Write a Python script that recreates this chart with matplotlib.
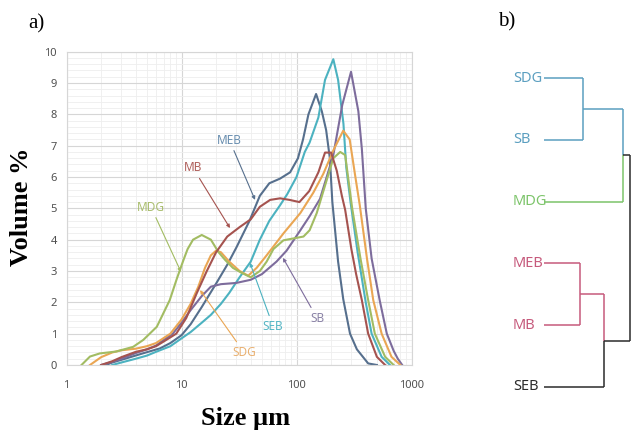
import matplotlib
matplotlib.use("Agg")
import matplotlib.pyplot as plt
from matplotlib.ticker import FixedLocator, FixedFormatter, LogLocator, MultipleLocator, NullFormatter

# ---------------- data: particle size distributions ----------------
MEB_x = [2.2, 2.5, 3.3, 4.6, 6.5, 8, 10, 12, 15, 20, 25, 30, 39, 48, 58, 72, 88, 103, 114, 127, 148, 166, 181, 195, 205, 230, 255, 292, 335, 420, 500]
MEB_y = [0, 0.08, 0.21, 0.37, 0.53, 0.7, 0.95, 1.3, 1.85, 2.6, 3.2, 3.75, 4.6, 5.4, 5.8, 5.95, 6.15, 6.6, 7.2, 8.0, 8.65, 8.1, 7.5, 6.6, 5.2, 3.3, 2.1, 1.0, 0.5, 0.05, 0]

SEB_x = [2.5, 3, 4, 5, 6, 8, 10, 12, 15, 18, 22, 26, 32, 40, 48, 58, 72, 83, 100, 118, 130, 155, 177, 209, 230, 256, 271, 295, 340, 400, 450, 550, 650]
SEB_y = [0, 0.08, 0.2, 0.3, 0.42, 0.6, 0.85, 1.05, 1.35, 1.6, 1.95, 2.3, 2.8, 3.3, 4.0, 4.6, 5.1, 5.45, 6.0, 6.8, 7.1, 7.9, 9.1, 9.76, 9.1, 7.7, 6.3, 5.2, 3.6, 2.0, 1.0, 0.26, 0]

SB_x = [2.0, 2.5, 3, 4, 5, 6, 7, 8.4, 10, 12, 15, 18, 22, 30, 40, 50, 67, 82, 108, 130, 160, 183, 209, 250, 298, 345, 370, 400, 450, 530, 610, 700, 760, 830]
SB_y = [0, 0.1, 0.2, 0.38, 0.5, 0.62, 0.8, 1.0, 1.35, 1.75, 2.2, 2.5, 2.58, 2.62, 2.72, 2.9, 3.3, 3.65, 4.3, 4.75, 5.3, 6.0, 6.7, 8.3, 9.36, 8.1, 6.9, 5.0, 3.4, 2.05, 1.0, 0.45, 0.2, 0]

SDG_x = [1.6, 2, 2.5, 3, 4, 5, 6, 8, 10, 12, 14, 16, 18, 20, 22, 26, 32, 38, 45, 55, 77, 108, 140, 171, 209, 255, 290, 322, 355, 410, 465, 550, 670, 800]
SDG_y = [0, 0.25, 0.4, 0.47, 0.52, 0.6, 0.7, 1.0, 1.45, 1.95, 2.5, 3.1, 3.5, 3.65, 3.6, 3.3, 3.0, 2.85, 3.1, 3.5, 4.2, 4.85, 5.5, 6.1, 6.85, 7.48, 7.2, 6.1, 5.1, 3.4, 2.07, 1.0, 0.26, 0]

MDG_x = [1.35, 1.6, 1.95, 2.7, 3.8, 4.65, 6.1, 7.9, 9.1, 10.4, 11.3, 12.6, 15, 18, 21, 24, 28, 33, 40, 48, 55, 63, 77, 94, 115, 130, 150, 183, 209, 240, 265, 305, 360, 420, 480, 590, 700]
MDG_y = [0, 0.27, 0.37, 0.43, 0.58, 0.8, 1.22, 2.07, 2.75, 3.35, 3.7, 4.0, 4.15, 4.0, 3.6, 3.35, 3.1, 2.95, 2.8, 3.0, 3.3, 3.7, 3.98, 4.04, 4.1, 4.3, 4.85, 5.9, 6.6, 6.8, 6.7, 5.0, 3.4, 2.07, 1.0, 0.26, 0]

MB_x = [2.0, 2.5, 3, 4, 5, 6, 7, 9, 11, 13.6, 16.6, 20, 25, 32, 40, 48, 59, 72, 87, 106, 129, 155, 177, 200, 224, 248, 265, 300, 330, 370, 420, 500, 590]
MB_y = [0, 0.12, 0.25, 0.42, 0.5, 0.6, 0.75, 1.0, 1.5, 2.3, 3.0, 3.6, 4.1, 4.4, 4.65, 5.05, 5.27, 5.32, 5.27, 5.2, 5.55, 6.15, 6.78, 6.78, 6.2, 5.4, 4.95, 3.7, 2.9, 2.07, 1.0, 0.26, 0]

x_ticks = [1, 10, 100, 1000]
x_tick_labels = ["1", "10", "100", "1000"]
y_ticks = [0, 1, 2, 3, 4, 5, 6, 7, 8, 9, 10]

series_names = ["MEB", "SEB", "SB", "SDG", "MDG", "MB"]
series_x = [MEB_x, SEB_x, SB_x, SDG_x, MDG_x, MB_x]
series_y = [MEB_y, SEB_y, SB_y, SDG_y, MDG_y, MB_y]
line_colors = {"MEB": "#566f8d", "SEB": "#4cb2c0", "SB": "#7d6c9c",
               "SDG": "#eaa653", "MDG": "#a2bc62", "MB": "#a5534f"}
label_colors = {"MEB": "#6a8fb0", "SEB": "#55b5c4", "SB": "#8a82a6",
                "SDG": "#e9b070", "MDG": "#a9bd6d", "MB": "#b0605c"}
# label position (x, y) and arrow tip (x, y) in data units
label_pos = {"MEB": (26.1, 7.18), "MB": (12.6, 6.29), "MDG": (5.43, 5.04),
             "SEB": (62.5, 1.24), "SB": (150.7, 1.5), "SDG": (34.9, 0.41)}
arrow_tip = {"MEB": (43.6, 5.27), "MB": (26.4, 4.37), "MDG": (9.9, 2.97),
             "SEB": (39.4, 3.26), "SB": (76.3, 3.42), "SDG": (14.5, 2.39)}

# ---------------- dendrogram data ----------------
leaves = ["SDG", "SB", "MDG", "MEB", "MB", "SEB"]
leaf_colors = ["#5b9fc0", "#5b9fc0", "#7cc46a", "#c65a7c", "#c65a7c", "#2b2b2b"]
merge_heights = {"SDG-SB": 3.9, "SDG-SB-MDG": 7.9, "MEB-MB": 3.6, "MEB-MB-SEB": 6.0, "root": 8.62}

# ---------------- figure ----------------
W, H = 631, 432
fig = plt.figure(figsize=(W / 100, H / 100), dpi=100)
fig.patch.set_facecolor("white")

ax = fig.add_axes([66.5 / W, (H - 365) / H, (411.5 - 66.5) / W, (365 - 51.7) / H])
ax.set_xscale("log")
ax.set_xlim(1, 1000)
ax.set_ylim(0, 10)

ax.xaxis.set_major_locator(FixedLocator(x_ticks))
ax.xaxis.set_major_formatter(FixedFormatter(x_tick_labels))
ax.xaxis.set_minor_locator(LogLocator(base=10, subs=[2, 3, 4, 5, 6, 7, 8, 9]))
ax.xaxis.set_minor_formatter(NullFormatter())
ax.yaxis.set_major_locator(FixedLocator(y_ticks))
ax.yaxis.set_minor_locator(MultipleLocator(0.2))

ax.grid(which="major", color="#d6d6d6", lw=0.8)
ax.grid(which="minor", color="#eeeeee", lw=0.6)
ax.set_axisbelow(True)
for s in ax.spines.values():
    s.set_color("#d6d6d6")
    s.set_linewidth(0.8)
ax.tick_params(which="both", length=0)
ax.tick_params(axis="x", pad=11, labelsize=8, labelcolor="#505050")
ax.tick_params(axis="y", pad=7, labelsize=8, labelcolor="#505050")
for lab in ax.get_xticklabels() + ax.get_yticklabels():
    lab.set_fontfamily("Noto Sans")

for name, xs, ys in zip(series_names, series_x, series_y):
    ax.plot(xs, ys, color=line_colors[name], lw=1.5, solid_joinstyle="round")

for name in series_names:
    ax.annotate(name, xy=arrow_tip[name], xytext=label_pos[name],
                ha="center", va="center", fontsize=8.5, family="Noto Sans",
                color=label_colors[name],
                arrowprops=dict(arrowstyle="-|>", color=line_colors[name], lw=0.8,
                                mutation_scale=5, shrinkA=1, shrinkB=0))

fig.text(22 / W, 1 - 207 / H, "Volume %", rotation=90, ha="center", va="center",
         fontsize=19, fontweight="bold", family="Liberation Serif")
fig.text(246 / W, 1 - 418 / H, "Size µm", ha="center", va="center",
         fontsize=19, fontweight="bold", family="Liberation Serif")
fig.text(36 / W, 1 - 24 / H, "a)", ha="center", va="center", fontsize=15,
         family="Liberation Serif")
fig.text(507 / W, 1 - 22 / H, "b)", ha="center", va="center", fontsize=15,
         family="Liberation Serif")

# dendrogram axes: x from distance 0 at px 544, leaves at px y 78..387
dax = fig.add_axes([544 / W, (H - 387) / H, (W - 544) / W, (387 - 78) / H])
dax.set_xlim(0, 8.7)
dax.set_ylim(len(leaves) - 1, 0)
dax.axis("off")
ypos = {n: i for i, n in enumerate(leaves)}
lw = 1.1

def seg(x0, y0, x1, y1, c):
    dax.plot([x0, x1], [y0, y1], color=c, lw=lw, clip_on=False, solid_capstyle="butt")

blue, green, pink, dark = leaf_colors[0], leaf_colors[2], leaf_colors[3], leaf_colors[5]
h1, h2 = merge_heights["SDG-SB"], merge_heights["SDG-SB-MDG"]
h3, h4 = merge_heights["MEB-MB"], merge_heights["MEB-MB-SEB"]
hr = merge_heights["root"]
# cluster 1
seg(0, ypos["SDG"], h1, ypos["SDG"], blue)
seg(0, ypos["SB"], h1, ypos["SB"], blue)
seg(h1, ypos["SDG"], h1, ypos["SB"], blue)
c1 = (ypos["SDG"] + ypos["SB"]) / 2
seg(h1, c1, h2, c1, blue)
seg(0, ypos["MDG"], h2, ypos["MDG"], green)
top_mid = (c1 + ypos["MDG"]) / 2
seg(h2, c1, h2, top_mid, blue)
seg(h2, top_mid, h2, ypos["MDG"], green)
# cluster 2
seg(0, ypos["MEB"], h3, ypos["MEB"], pink)
seg(0, ypos["MB"], h3, ypos["MB"], pink)
seg(h3, ypos["MEB"], h3, ypos["MB"], pink)
c2 = (ypos["MEB"] + ypos["MB"]) / 2
seg(h3, c2, h4, c2, pink)
seg(0, ypos["SEB"], h4, ypos["SEB"], dark)
bot_mid = (c2 + ypos["SEB"]) / 2
seg(h4, c2, h4, bot_mid, pink)
seg(h4, bot_mid, h4, ypos["SEB"], dark)
# root
seg(h2, top_mid, hr, top_mid, dark)
seg(h4, bot_mid, hr, bot_mid, dark)
seg(hr, top_mid, hr, bot_mid, dark)

for i, (n, c) in enumerate(zip(leaves, leaf_colors)):
    dax.annotate(n, xy=(0, i), xytext=(-31, 0), textcoords="offset pixels",
                 ha="left", va="center", fontsize=10.5, family="Noto Sans",
                 color=c, annotation_clip=False)

fig.savefig("out.png", dpi=100, facecolor="white")
